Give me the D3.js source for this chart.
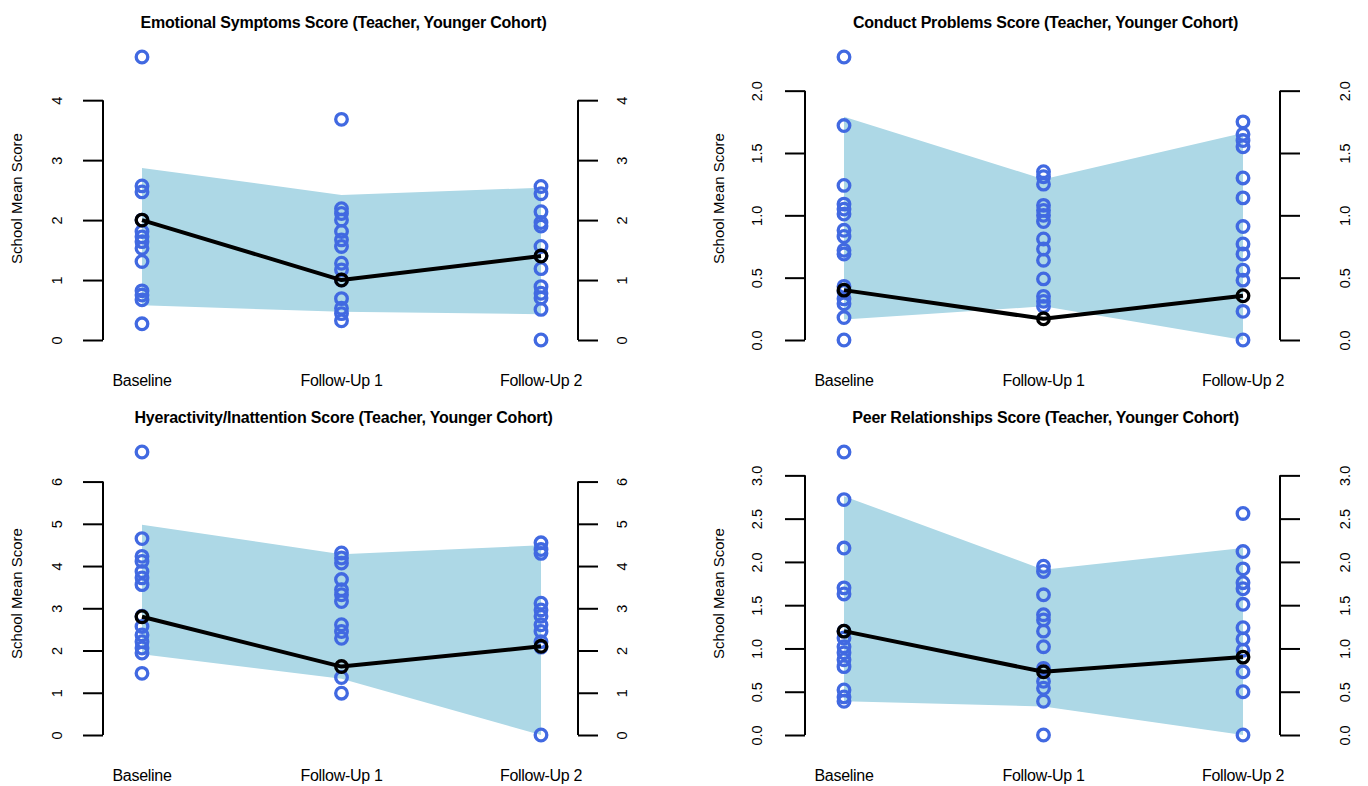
<!DOCTYPE html>
<html>
<head>
<meta charset="utf-8">
<script src="https://cdn.jsdelivr.net/npm/d3@7"></script>
<style>
  html, body { margin: 0; padding: 0; background: #fff; }
  svg { display: block; }
  text { font-family: "Liberation Sans", Arial, Helvetica, sans-serif; fill: #000; }
</style>
</head>
<body>
<svg id="chart" width="1368" height="786"></svg>
<script>
// Time points shared by all four panels
const timepoints = ["Baseline", "Follow-Up 1", "Follow-Up 2"];

// Emotional symptoms: school means per time point, modelled mean and band
const emoBaseline  = [4.72, 2.57, 2.47, 2.0, 1.81, 1.72, 1.64, 1.53, 1.31, 0.82, 0.75, 0.67, 0.27];
const emoFollowUp1 = [3.68, 2.19, 2.11, 2.0, 1.81, 1.67, 1.56, 1.28, 1.17, 1.0, 0.69, 0.53, 0.44, 0.32];
const emoFollowUp2 = [2.56, 2.44, 2.14, 1.96, 1.9, 1.56, 1.4, 1.19, 0.89, 0.78, 0.70, 0.51, 0];
const emoMean  = [2.0, 1.0, 1.4];
const emoUpper = [2.87, 2.42, 2.54];
const emoLower = [0.58, 0.47, 0.43];
const emoTicks = [0, 1, 2, 3, 4];

// Conduct problems
const cpBaseline  = [2.27, 1.72, 1.24, 1.09, 1.05, 1.01, 0.88, 0.83, 0.72, 0.69, 0.43, 0.39, 0.33, 0.29, 0.18, 0];
const cpFollowUp1 = [1.35, 1.31, 1.25, 1.08, 1.04, 1.0, 0.95, 0.81, 0.73, 0.64, 0.49, 0.35, 0.31, 0.27];
const cpFollowUp2 = [1.75, 1.65, 1.6, 1.55, 1.30, 1.14, 0.91, 0.77, 0.69, 0.56, 0.48, 0.23, 0];
const cpMean  = [0.40, 0.17, 0.355];
const cpUpper = [1.79, 1.29, 1.66];
const cpLower = [0.165, 0.27, 0];
const cpTicks = [0, 0.5, 1.0, 1.5, 2.0];

// Hyperactivity / inattention
const haBaseline  = [6.70, 4.65, 4.23, 4.11, 3.87, 3.72, 3.56, 2.81, 2.57, 2.37, 2.21, 2.06, 1.94, 1.46];
const haFollowUp1 = [4.31, 4.19, 4.07, 3.68, 3.44, 3.32, 3.16, 2.61, 2.45, 2.29, 1.36, 0.99];
const haFollowUp2 = [4.55, 4.39, 4.30, 3.12, 2.96, 2.81, 2.61, 2.45, 2.21, 2.08, 0];
const haMean  = [2.8, 1.62, 2.1];
const haUpper = [4.98, 4.28, 4.49];
const haLower = [1.91, 1.33, 0];
const haTicks = [0, 1, 2, 3, 4, 5, 6];

// Peer relationships
const prBaseline  = [3.27, 2.72, 2.16, 1.70, 1.63, 1.2, 1.12, 1.02, 0.95, 0.87, 0.79, 0.52, 0.44, 0.39];
const prFollowUp1 = [1.95, 1.89, 1.62, 1.39, 1.33, 1.20, 1.02, 0.77, 0.62, 0.54, 0.39, 0];
const prFollowUp2 = [2.56, 2.12, 1.92, 1.76, 1.69, 1.51, 1.24, 1.11, 0.98, 0.73, 0.50, 0];
const prMean  = [1.2, 0.73, 0.9];
const prUpper = [2.76, 1.91, 2.16];
const prLower = [0.39, 0.33, 0];
const prTicks = [0, 0.5, 1.0, 1.5, 2.0, 2.5, 3.0];

const titles = [
  "Emotional Symptoms Score (Teacher, Younger Cohort)",
  "Conduct Problems Score (Teacher, Younger Cohort)",
  "Hyeractivity/Inattention Score (Teacher, Younger Cohort)",
  "Peer Relationships Score (Teacher, Younger Cohort)"
];
const yLabel = "School Mean Score";

const panels = [
  { title: titles[0], points: [emoBaseline, emoFollowUp1, emoFollowUp2], mean: emoMean, upper: emoUpper, lower: emoLower, ticks: emoTicks, fmt: d3.format("d") },
  { title: titles[1], points: [cpBaseline, cpFollowUp1, cpFollowUp2],    mean: cpMean,  upper: cpUpper,  lower: cpLower,  ticks: cpTicks,  fmt: d3.format(".1f") },
  { title: titles[2], points: [haBaseline, haFollowUp1, haFollowUp2],    mean: haMean,  upper: haUpper,  lower: haLower,  ticks: haTicks,  fmt: d3.format("d") },
  { title: titles[3], points: [prBaseline, prFollowUp1, prFollowUp2],    mean: prMean,  upper: prUpper,  lower: prLower,  ticks: prTicks,  fmt: d3.format(".1f") }
];

const svg = d3.select("#chart");
const BLUE = "#4169e1";
const BAND = "#add8e6";

panels.forEach((p, i) => {
  const col = i % 2, row = Math.floor(i / 2);
  const dx = col === 0 ? 0 : 702;   // left edge shift for each column
  const dy = row * 395;
  const axisL = 103 + dx, axisR = 578 + dx;
  const plotTop = 57 + dy, plotBottom = 340 + dy;
  const leftLabelOffset = col === 0 ? -46 : -48;
  const rightLabelOffset = col === 0 ? 44 : 65;

  const x = d3.scalePoint().domain(timepoints).range([142 + dx, 541 + dx]);
  const allVals = p.points.flat();
  const y = d3.scaleLinear().domain([0, d3.max(allVals)]).range([plotBottom, plotTop]);

  const g = svg.append("g");

  // confidence band
  const band = timepoints.map((t, k) => ({ t, lo: p.lower[k], hi: p.upper[k] }));
  g.append("path")
    .datum(band)
    .attr("fill", BAND)
    .attr("d", d3.area().x(d => x(d.t)).y0(d => y(d.lo)).y1(d => y(d.hi)));

  // school means
  timepoints.forEach((t, k) => {
    g.selectAll(null)
      .data(p.points[k])
      .enter().append("circle")
      .attr("cx", x(t))
      .attr("cy", d => y(d))
      .attr("r", 5.8)
      .attr("fill", "none")
      .attr("stroke", BLUE)
      .attr("stroke-width", 3.3);
  });

  // overall mean trajectory
  const meanPts = timepoints.map((t, k) => ({ t, v: p.mean[k] }));
  g.append("path")
    .datum(meanPts)
    .attr("fill", "none")
    .attr("stroke", "#000")
    .attr("stroke-width", 4)
    .attr("stroke-linejoin", "round")
    .attr("d", d3.line().x(d => x(d.t)).y(d => y(d.v)));
  g.selectAll(null)
    .data(meanPts)
    .enter().append("circle")
    .attr("cx", d => x(d.t))
    .attr("cy", d => y(d.v))
    .attr("r", 5.8)
    .attr("fill", "none")
    .attr("stroke", "#000")
    .attr("stroke-width", 3.3);

  // left and right axes
  const left = g.append("g")
    .attr("transform", `translate(${axisL},0)`)
    .call(d3.axisLeft(y).tickValues(p.ticks).tickFormat(p.fmt).tickSize(20).tickSizeOuter(0));
  const right = g.append("g")
    .attr("transform", `translate(${axisR},0)`)
    .call(d3.axisRight(y).tickValues(p.ticks).tickFormat(p.fmt).tickSize(20).tickSizeOuter(0));

  [left, right].forEach(ax => {
    ax.select(".domain").remove();
    ax.selectAll("line").attr("stroke", "#000").attr("stroke-width", 2);
    ax.selectAll(".tick text")
      .attr("x", null).attr("dy", null)
      .attr("y", 5)
      .attr("text-anchor", "middle")
      .style("font-size", "14.5px");
  });
  left.selectAll(".tick text").attr("transform", `translate(${leftLabelOffset},0) rotate(-90)`);
  right.selectAll(".tick text").attr("transform", `translate(${rightLabelOffset},0) rotate(-90)`);

  const yMax = d3.max(p.ticks);
  [axisL, axisR].forEach(ax => {
    g.append("line")
      .attr("x1", ax).attr("x2", ax)
      .attr("y1", y(0)).attr("y2", y(yMax))
      .attr("stroke", "#000").attr("stroke-width", 2);
  });

  // y axis title
  g.append("text")
    .attr("transform", `translate(${axisL - 86},${(plotTop + plotBottom) / 2}) rotate(-90)`)
    .attr("text-anchor", "middle")
    .attr("dy", "0.35em")
    .style("font-size", "15px")
    .text(yLabel);

  // category labels
  g.selectAll(null)
    .data(timepoints)
    .enter().append("text")
    .attr("x", d => x(d))
    .attr("y", 386 + dy)
    .attr("text-anchor", "middle")
    .style("font-size", "16px")
    .style("letter-spacing", "-0.3px")
    .text(d => d);

  // panel title
  g.append("text")
    .attr("x", (axisL + axisR) / 2 + 3)
    .attr("y", 28 + dy)
    .attr("text-anchor", "middle")
    .style("font-size", "16px")
    .style("font-weight", "bold")
    .style("letter-spacing", "-0.2px")
    .text(p.title);
});
</script>
</body>
</html>
